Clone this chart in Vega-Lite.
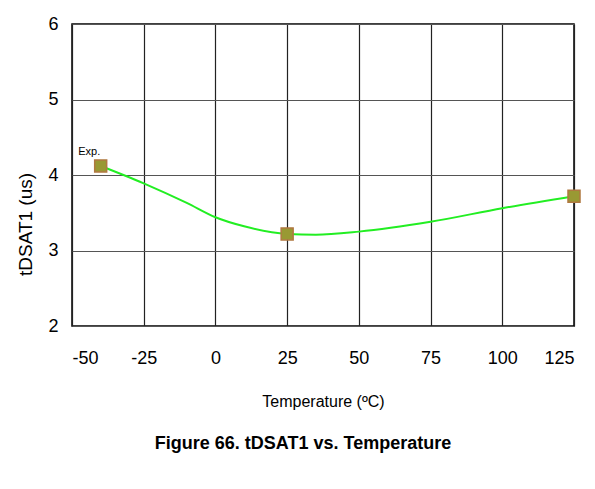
{
  "$schema": "https://vega.github.io/schema/vega-lite/v6.json",
  "width": 502,
  "height": 302,
  "autosize": {"type": "none"},
  "padding": {"left": 72, "top": 24, "right": 21, "bottom": 163},
  "background": "white",
  "config": {
    "font": "Liberation Sans",
    "view": {"stroke": "black", "strokeWidth": 1.5},
    "axis": {"domain": false, "ticks": false, "grid": true, "gridColor": "#222", "gridOpacity": 1, "gridWidth": 1.2, "labelFont": "Liberation Sans", "labelFontSize": 17, "labelColor": "black", "titleFont": "Liberation Sans", "titleFontWeight": "normal", "titleColor": "black"}
  },
  "title": {"text": "Figure 66. tDSAT1 vs. Temperature", "orient": "bottom", "fontSize": 18, "fontWeight": "bold", "font": "Liberation Sans", "color": "black", "offset": 26, "dx": -20, "anchor": "middle"},
  "datasets": {
    "curve": [
      {"t": -40, "v": 4.12},
      {"t": -25, "v": 3.89},
      {"t": -10, "v": 3.63},
      {"t": 0, "v": 3.44},
      {"t": 10, "v": 3.32},
      {"t": 25, "v": 3.22},
      {"t": 35, "v": 3.21},
      {"t": 50, "v": 3.25},
      {"t": 75, "v": 3.38},
      {"t": 100, "v": 3.56},
      {"t": 125, "v": 3.72}
    ],
    "points": [
      {"t": -40, "v": 4.12},
      {"t": 25, "v": 3.22},
      {"t": 125, "v": 3.72}
    ],
    "labels": [
      {"t": -44, "v": 4.3, "label": "Exp."}
    ]
  },
  "encoding": {
    "x": {"field": "t", "type": "quantitative", "scale": {"domain": [-50, 125], "nice": false, "zero": false},
      "axis": {"values": [-50, -25, 0, 25, 50, 75, 100, 125], "labelExpr": "replace(datum.label, '−', '-')", "labelPadding": 23, "labelFontSize": 18, "title": "Temperature (ºC)", "titleFontSize": 16, "titlePadding": 26}},
    "y": {"field": "v", "type": "quantitative", "scale": {"domain": [2, 6], "nice": false, "zero": false},
      "axis": {"values": [2, 3, 4, 5, 6], "labelPadding": 14, "labelFontSize": 18, "gridColor": "#555", "title": "tDSAT1 (us)", "titleFontSize": 19, "titlePadding": 12, "titleY": 200}}
  },
  "layer": [
    {"data": {"name": "curve"}, "mark": {"type": "line", "color": "#22ee22", "strokeWidth": 2, "interpolate": "monotone"}},
    {"data": {"name": "points"}, "mark": {"type": "square", "size": 144, "fill": "#999933", "stroke": "#b07840", "strokeWidth": 1.5, "opacity": 1}},
    {"data": {"name": "labels"}, "mark": {"type": "text", "fontSize": 11, "font": "Liberation Sans", "color": "black"}, "encoding": {"text": {"field": "label"}}}
  ]
}
